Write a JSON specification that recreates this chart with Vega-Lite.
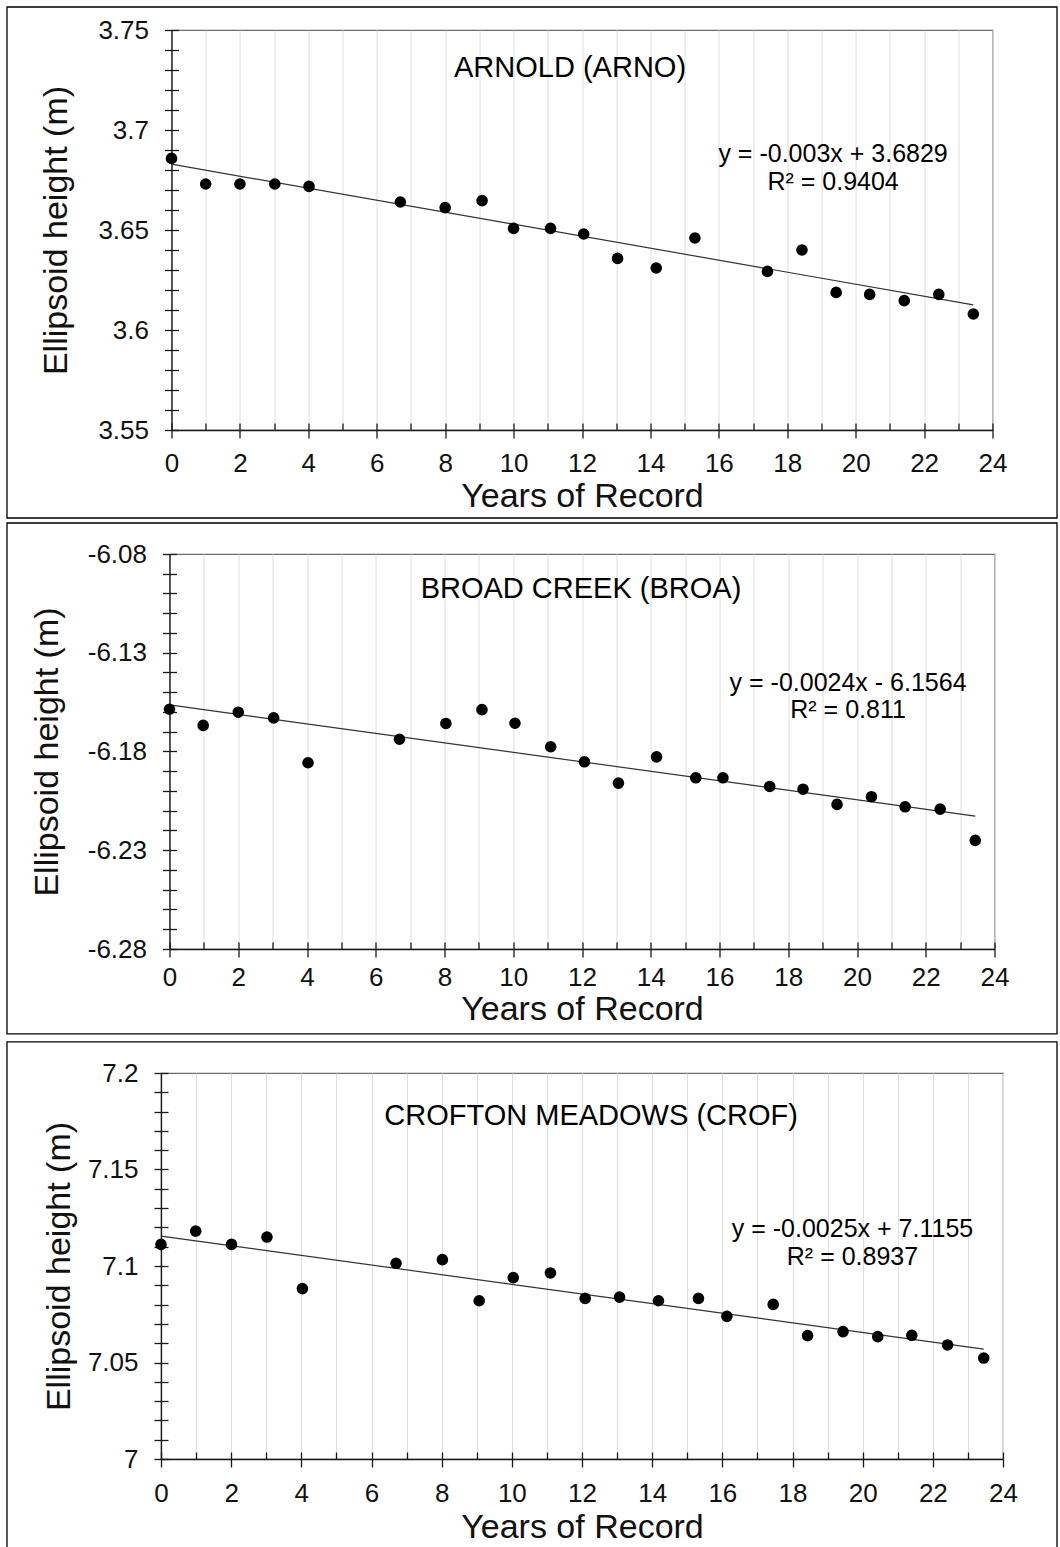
{
  "$schema": "https://vega.github.io/schema/vega-lite/v6.json",
  "background": "white",
  "padding": {"left": 5, "top": 5, "right": 0, "bottom": 0},
  "datasets": {
    "arno": [
      {"yr": 0, "h": 3.6858}, {"yr": 1.0, "h": 3.673}, {"yr": 2.0, "h": 3.673}, {"yr": 3.02, "h": 3.673},
      {"yr": 4.02, "h": 3.6718}, {"yr": 6.69, "h": 3.664}, {"yr": 8.0, "h": 3.6612}, {"yr": 9.08, "h": 3.6647},
      {"yr": 10.0, "h": 3.6508}, {"yr": 11.08, "h": 3.6508}, {"yr": 12.05, "h": 3.648}, {"yr": 13.04, "h": 3.6358},
      {"yr": 14.17, "h": 3.631}, {"yr": 15.3, "h": 3.646}, {"yr": 17.42, "h": 3.6293}, {"yr": 18.43, "h": 3.64},
      {"yr": 19.43, "h": 3.6188}, {"yr": 20.41, "h": 3.6178}, {"yr": 21.42, "h": 3.6147}, {"yr": 22.43, "h": 3.6178},
      {"yr": 23.44, "h": 3.608}
    ],
    "arno_trend": [{"yr": 0, "h": 3.6829}, {"yr": 23.44, "h": 3.6126}],
    "broa": [
      {"yr": 0, "h": -6.1586}, {"yr": 0.98, "h": -6.1668}, {"yr": 2.0, "h": -6.1601}, {"yr": 3.03, "h": -6.163},
      {"yr": 4.03, "h": -6.1857}, {"yr": 6.69, "h": -6.1738}, {"yr": 8.04, "h": -6.1658}, {"yr": 9.09, "h": -6.1588},
      {"yr": 10.05, "h": -6.1657}, {"yr": 11.09, "h": -6.1776}, {"yr": 12.07, "h": -6.1852}, {"yr": 13.06, "h": -6.196},
      {"yr": 14.17, "h": -6.1827}, {"yr": 15.31, "h": -6.1933}, {"yr": 16.1, "h": -6.1933}, {"yr": 17.46, "h": -6.1977},
      {"yr": 18.43, "h": -6.1991}, {"yr": 19.42, "h": -6.2068}, {"yr": 20.42, "h": -6.2029}, {"yr": 21.4, "h": -6.208},
      {"yr": 22.42, "h": -6.2092}, {"yr": 23.44, "h": -6.225}
    ],
    "broa_trend": [{"yr": 0, "h": -6.1564}, {"yr": 23.44, "h": -6.2127}],
    "crof": [
      {"yr": 0, "h": 7.1112}, {"yr": 0.99, "h": 7.1181}, {"yr": 2.01, "h": 7.1112}, {"yr": 3.02, "h": 7.115},
      {"yr": 4.03, "h": 7.0883}, {"yr": 6.7, "h": 7.1014}, {"yr": 8.02, "h": 7.1033}, {"yr": 9.07, "h": 7.082},
      {"yr": 10.04, "h": 7.094}, {"yr": 11.1, "h": 7.0964}, {"yr": 12.09, "h": 7.0832}, {"yr": 13.07, "h": 7.0839},
      {"yr": 14.18, "h": 7.082}, {"yr": 15.32, "h": 7.0832}, {"yr": 16.13, "h": 7.0739}, {"yr": 17.45, "h": 7.0801},
      {"yr": 18.43, "h": 7.0639}, {"yr": 19.44, "h": 7.066}, {"yr": 20.43, "h": 7.0634}, {"yr": 21.4, "h": 7.0641},
      {"yr": 22.42, "h": 7.0591}, {"yr": 23.45, "h": 7.0523}
    ],
    "crof_trend": [{"yr": 0, "h": 7.1155}, {"yr": 23.45, "h": 7.0569}],
    "one": [{}]
  },
  "vconcat": [
    {
      "width": 821, "height": 400,
      "layer": [
        {
          "data": {"name": "arno_trend"},
          "mark": {"type": "line", "color": "#333333", "strokeWidth": 1.2},
          "encoding": {
            "x": {"field": "yr", "type": "quantitative", "scale": {"domain": [0, 24], "nice": false, "zero": false},
                  "axis": {"orient": "bottom", "values": [0,1,2,3,4,5,6,7,8,9,10,11,12,13,14,15,16,17,18,19,20,21,22,23,24], "tickSize": -7, "labels": false, "domain": false, "grid": true, "title": null}},
            "y": {"field": "h", "type": "quantitative", "scale": {"domain": [3.55, 3.75], "nice": false, "zero": false},
                  "axis": {"orient": "left", "values": [3.55,3.56,3.57,3.58,3.59,3.6,3.61,3.62,3.63,3.64,3.65,3.66,3.67,3.68,3.69,3.7,3.71,3.72,3.73,3.74,3.75], "tickSize": -7, "labels": false, "domain": false, "grid": false, "title": null}}
          }
        },
        {
          "data": {"name": "arno"},
          "mark": {"type": "circle", "size": 135, "color": "#000000", "opacity": 1},
          "encoding": {
            "x": {"field": "yr", "type": "quantitative",
                  "axis": {"orient": "bottom", "values": [0,2,4,6,8,10,12,14,16,18,20,22,24], "tickSize": 8, "labelFontSize": 26, "labelPadding": 12.8, "labelFlush": false, "labelOverlap": false, "grid": false, "title": "Years of Record", "titleFontSize": 34, "titlePadding": 2.2}},
            "y": {"field": "h", "type": "quantitative",
                  "axis": {"orient": "left", "values": [3.55,3.56,3.57,3.58,3.59,3.6,3.61,3.62,3.63,3.64,3.65,3.66,3.67,3.68,3.69,3.7,3.71,3.72,3.73,3.74,3.75], "tickSize": 7, "labelFontSize": 26, "labelPadding": 16, "labelOverlap": false, "labelBound": false,
                           "labelExpr": "round(datum.value*100) % 5 === 0 ? '' + datum.value : ''", "grid": false, "title": "Ellipsoid height (m)", "titleFontSize": 34, "titlePadding": 24}}
          }
        },
        {
          "data": {"name": "one"},
          "mark": {"type": "text", "text": "ARNOLD (ARNO)", "fontSize": 29, "align": "center", "baseline": "middle", "color": "#000000"},
          "encoding": {"x": {"datum": 11.65, "axis": null}, "y": {"datum": 3.731, "axis": null}}
        },
        {
          "data": {"name": "one"},
          "mark": {"type": "text", "text": ["y = -0.003x + 3.6829", "R² = 0.9404"], "fontSize": 25, "lineHeight": 28, "align": "center", "baseline": "middle", "color": "#000000"},
          "encoding": {"x": {"datum": 19.34, "axis": null}, "y": {"datum": 3.68825, "axis": null}}
        },
        {
          "data": {"name": "one"},
          "mark": {"type": "rect", "fillOpacity": 0, "stroke": "#000000", "strokeWidth": 1.3, "clip": false},
          "encoding": {"x": {"datum": -4.809, "axis": null}, "x2": {"datum": 25.886}, "y": {"datum": 3.7615, "axis": null}, "y2": {"datum": 3.506}}
        }
      ],
      "resolve": {"axis": {"x": "independent", "y": "independent"}}
    },
    {
      "width": 825, "height": 395,
      "layer": [
        {
          "data": {"name": "broa_trend"},
          "mark": {"type": "line", "color": "#333333", "strokeWidth": 1.2},
          "encoding": {
            "x": {"field": "yr", "type": "quantitative", "scale": {"domain": [0, 24], "nice": false, "zero": false},
                  "axis": {"orient": "bottom", "values": [0,1,2,3,4,5,6,7,8,9,10,11,12,13,14,15,16,17,18,19,20,21,22,23,24], "tickSize": -7, "labels": false, "domain": false, "grid": true, "title": null}},
            "y": {"field": "h", "type": "quantitative", "scale": {"domain": [-6.28, -6.08], "nice": false, "zero": false},
                  "axis": {"orient": "left", "values": [-6.28,-6.27,-6.26,-6.25,-6.24,-6.23,-6.22,-6.21,-6.2,-6.19,-6.18,-6.17,-6.16,-6.15,-6.14,-6.13,-6.12,-6.11,-6.1,-6.09,-6.08], "tickSize": -7, "labels": false, "domain": false, "grid": false, "title": null}}
          }
        },
        {
          "data": {"name": "broa"},
          "mark": {"type": "circle", "size": 135, "color": "#000000", "opacity": 1},
          "encoding": {
            "x": {"field": "yr", "type": "quantitative",
                  "axis": {"orient": "bottom", "values": [0,2,4,6,8,10,12,14,16,18,20,22,24], "tickSize": 8, "labelFontSize": 26, "labelPadding": 7, "labelFlush": false, "labelOverlap": false, "grid": false, "title": "Years of Record", "titleFontSize": 34, "titlePadding": 2}},
            "y": {"field": "h", "type": "quantitative",
                  "axis": {"orient": "left", "values": [-6.28,-6.27,-6.26,-6.25,-6.24,-6.23,-6.22,-6.21,-6.2,-6.19,-6.18,-6.17,-6.16,-6.15,-6.14,-6.13,-6.12,-6.11,-6.1,-6.09,-6.08], "tickSize": 7, "labelFontSize": 26, "labelPadding": 16, "labelOverlap": false, "labelBound": false,
                           "labelExpr": "(round(datum.value*100) + 628) % 5 === 0 ? '' + datum.value : ''", "grid": false, "title": "Ellipsoid height (m)", "titleFontSize": 34, "titlePadding": 23}}
          }
        },
        {
          "data": {"name": "one"},
          "mark": {"type": "text", "text": "BROAD CREEK (BROA)", "fontSize": 29, "align": "center", "baseline": "middle", "color": "#000000"},
          "encoding": {"x": {"datum": 11.97, "axis": null}, "y": {"datum": -6.0977, "axis": null}}
        },
        {
          "data": {"name": "one"},
          "mark": {"type": "text", "text": ["y = -0.0024x - 6.1564", "R² = 0.811"], "fontSize": 25, "lineHeight": 27, "align": "center", "baseline": "middle", "color": "#000000"},
          "encoding": {"x": {"datum": 19.74, "axis": null}, "y": {"datum": -6.1453, "axis": null}}
        },
        {
          "data": {"name": "one"},
          "mark": {"type": "rect", "fillOpacity": 0, "stroke": "#000000", "strokeWidth": 1.3, "clip": false},
          "encoding": {"x": {"datum": -4.727, "axis": null}, "x2": {"datum": 25.818}, "y": {"datum": -6.0643, "axis": null}, "y2": {"datum": -6.323}}
        }
      ],
      "resolve": {"axis": {"x": "independent", "y": "independent"}}
    },
    {
      "width": 842, "height": 386,
      "layer": [
        {
          "data": {"name": "crof_trend"},
          "mark": {"type": "line", "color": "#333333", "strokeWidth": 1.2},
          "encoding": {
            "x": {"field": "yr", "type": "quantitative", "scale": {"domain": [0, 24], "nice": false, "zero": false},
                  "axis": {"orient": "bottom", "values": [0,1,2,3,4,5,6,7,8,9,10,11,12,13,14,15,16,17,18,19,20,21,22,23,24], "tickSize": -7, "labels": false, "domain": false, "grid": true, "title": null}},
            "y": {"field": "h", "type": "quantitative", "scale": {"domain": [7.0, 7.2], "nice": false, "zero": false},
                  "axis": {"orient": "left", "values": [7,7.01,7.02,7.03,7.04,7.05,7.06,7.07,7.08,7.09,7.1,7.11,7.12,7.13,7.14,7.15,7.16,7.17,7.18,7.19,7.2], "tickSize": -7, "labels": false, "domain": false, "grid": false, "title": null}}
          }
        },
        {
          "data": {"name": "crof"},
          "mark": {"type": "circle", "size": 135, "color": "#000000", "opacity": 1},
          "encoding": {
            "x": {"field": "yr", "type": "quantitative",
                  "axis": {"orient": "bottom", "values": [0,2,4,6,8,10,12,14,16,18,20,22,24], "tickSize": 8, "labelFontSize": 26, "labelPadding": 13, "labelFlush": false, "labelOverlap": false, "grid": false, "title": "Years of Record", "titleFontSize": 34, "titlePadding": 4}},
            "y": {"field": "h", "type": "quantitative",
                  "axis": {"orient": "left", "values": [7,7.01,7.02,7.03,7.04,7.05,7.06,7.07,7.08,7.09,7.1,7.11,7.12,7.13,7.14,7.15,7.16,7.17,7.18,7.19,7.2], "tickSize": 7, "labelFontSize": 26, "labelPadding": 16, "labelOverlap": false, "labelBound": false,
                           "labelExpr": "round(datum.value*100) % 5 === 0 ? '' + datum.value : ''", "grid": false, "title": "Ellipsoid height (m)", "titleFontSize": 34, "titlePadding": 11}}
          }
        },
        {
          "data": {"name": "one"},
          "mark": {"type": "text", "text": "CROFTON MEADOWS (CROF)", "fontSize": 29, "align": "center", "baseline": "middle", "color": "#000000"},
          "encoding": {"x": {"datum": 12.26, "axis": null}, "y": {"datum": 7.1777, "axis": null}}
        },
        {
          "data": {"name": "one"},
          "mark": {"type": "text", "text": ["y = -0.0025x + 7.1155", "R² = 0.8937"], "fontSize": 25, "lineHeight": 28, "align": "center", "baseline": "middle", "color": "#000000"},
          "encoding": {"x": {"datum": 19.71, "axis": null}, "y": {"datum": 7.1192, "axis": null}}
        },
        {
          "data": {"name": "one"},
          "mark": {"type": "rect", "fillOpacity": 0, "stroke": "#000000", "strokeWidth": 1.3, "clip": false},
          "encoding": {"x": {"datum": -4.39, "axis": null}, "x2": {"datum": 25.539}, "y": {"datum": 7.2161, "axis": null}, "y2": {"datum": 6.9534}}
        }
      ],
      "resolve": {"axis": {"x": "independent", "y": "independent"}}
    }
  ],
  "spacing": 124,
  "bounds": "flush",
  "center": true,
  "config": {
    "font": "Liberation Sans",
    "view": {"stroke": "#6e6e6e", "strokeWidth": 1.2},
    "axis": {"domainColor": "#1a1a1a", "tickColor": "#1a1a1a", "domainWidth": 1.3, "tickWidth": 1.3, "labelColor": "#111111", "titleColor": "#111111", "labelFont": "Liberation Sans", "titleFont": "Liberation Sans", "titleFontWeight": "normal", "gridColor": "#dedede", "gridWidth": 1},
    "text": {"font": "Liberation Sans"}
  }
}
